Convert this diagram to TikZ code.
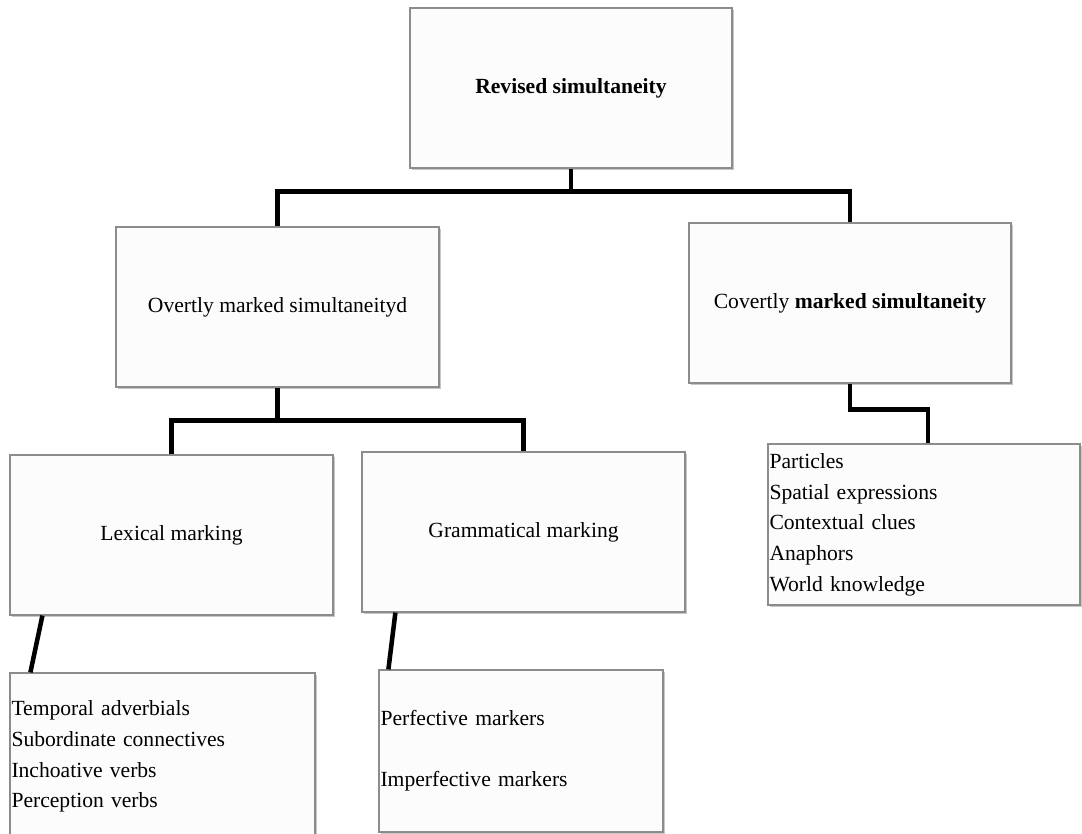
\documentclass[tikz,border=0pt]{standalone}
\usepackage{fontspec}
\setmainfont{Liberation Serif}
\usetikzlibrary{shadows,calc}
\begin{document}
\begin{tikzpicture}[x=0.75pt,y=-0.75pt,
  box/.style={draw=black!45, fill=black!1, line width=0.9pt, inner sep=0pt,
    font=\fontsize{16.2}{23}\selectfont,
    drop shadow={shadow xshift=1.6pt, shadow yshift=-1.6pt, fill=black, opacity=0.22}},
  listbox/.style={box, align=left, inner xsep=1pt},
  conn/.style={line width=3.4pt, black}]
\useasboundingbox (0,0) rectangle (1082,833);
% boxes
\node[box, minimum width=322*0.75pt, minimum height=160*0.75pt] (top) at (571,88) {\textbf{Revised simultaneity}};
\node[box, minimum width=323*0.75pt, minimum height=160*0.75pt] (ov) at (277.5,307) {Overtly marked simultaneityd};
\node[box, minimum width=322*0.75pt, minimum height=160*0.75pt] (cov) at (850,303) {Covertly \textbf{marked simultaneity}};
\node[listbox, minimum width=312*0.75pt, minimum height=161*0.75pt, text width=309*0.75pt] (rlist) at (924,524.5)
  {Particles\\Spatial expressions\\Contextual clues\\Anaphors\\World knowledge};
\node[box, minimum width=323*0.75pt, minimum height=160*0.75pt] (lex) at (171.5,535) {Lexical marking};
\node[box, minimum width=323*0.75pt, minimum height=160*0.75pt] (gram) at (523.5,532) {Grammatical marking};
\node[listbox, minimum width=305*0.75pt, minimum height=167*0.75pt, text width=302*0.75pt] (lexlist) at (162.5,756.5)
  {Temporal adverbials\\Subordinate connectives\\Inchoative verbs\\Perception verbs};
\node[listbox, minimum width=284*0.75pt, minimum height=162*0.75pt, text width=281*0.75pt] (glist) at (521,751)
  {Perfective markers\\[23pt]Imperfective markers};
% connectors
\draw[conn] (top.south) -- ++(0,23) coordinate (tj);
\draw[conn] (tj) -| (ov.north);
\draw[conn] (tj) -| (cov.north);
\draw[conn] (ov.south) -- ++(0,33) coordinate (oj);
\draw[conn] (oj) -| (lex.north);
\draw[conn] (oj) -| (gram.north);
\draw[conn] (cov.south) |- ($(cov.south)!0.5!(rlist.north)+(0,-4)$) -| ($(rlist.north)+(4,0)$);
\draw[conn] ($(lex.south west)+(33,0)$) -- ($(lexlist.north west)+(21,0)$);
\draw[conn] ($(gram.south west)+(34,0)$) -- ($(glist.north west)+(10,0)$);
\end{tikzpicture}
\end{document}
